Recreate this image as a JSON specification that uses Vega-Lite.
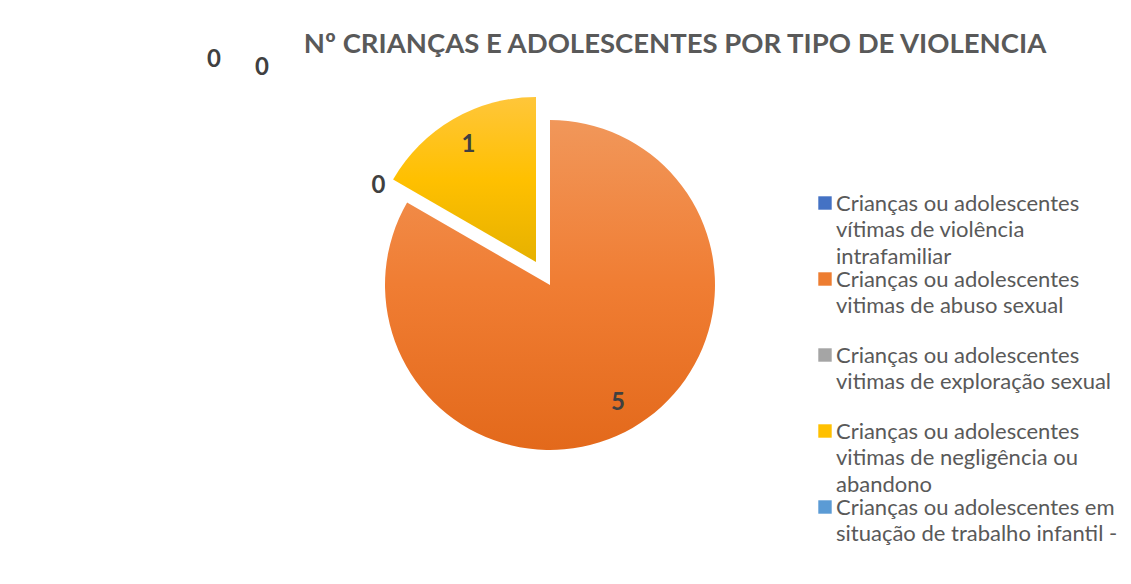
{
  "$schema": "https://vega.github.io/schema/vega-lite/v6.json",
  "width": 1100,
  "height": 570,
  "autosize": {"type": "none"},
  "padding": {"left": 0, "top": 0, "right": 31, "bottom": 14},
  "background": "white",
  "config": {"view": {"stroke": null}, "font": "Lato"},
  "title": {
    "text": "Nº CRIANÇAS E ADOLESCENTES POR TIPO DE VIOLENCIA",
    "frame": "group",
    "anchor": "middle",
    "orient": "top",
    "offset": -80,
    "baseline": "alphabetic",
    "dx": 125,
    "fontSize": 27.5,
    "fontWeight": "bold",
    "color": "#595959",
    "font": "Lato"
  },
  "data": {
    "values": [
      {"categoria": "Crianças ou adolescentes vítimas de violência intrafamiliar", "valor": 0},
      {"categoria": "Crianças ou adolescentes vitimas de abuso sexual", "valor": 5},
      {"categoria": "Crianças ou adolescentes vitimas de exploração sexual", "valor": 0},
      {"categoria": "Crianças ou adolescentes vitimas de negligência ou abandono", "valor": 1},
      {"categoria": "Crianças ou adolescentes em situação de trabalho infantil -", "valor": 0}
    ]
  },
  "transform": [
    {"stack": "valor", "groupby": [], "as": ["v0", "v1"]},
    {"calculate": "(datum.v0 + datum.v1) / 2", "as": "vmid"}
  ],
  "layer": [
    {
      "mark": {"type": "arc", "radius": 165, "opacity": 0},
      "encoding": {
        "theta": {"field": "v0", "type": "quantitative", "scale": {"domain": [0, 6]}},
        "theta2": {"field": "v1"},
        "color": {
          "field": "categoria",
          "type": "nominal",
          "scale": {
            "domain": [
              "Crianças ou adolescentes vítimas de violência intrafamiliar",
              "Crianças ou adolescentes vitimas de abuso sexual",
              "Crianças ou adolescentes vitimas de exploração sexual",
              "Crianças ou adolescentes vitimas de negligência ou abandono",
              "Crianças ou adolescentes em situação de trabalho infantil -"
            ],
            "range": ["#4472C4", "#ED7D31", "#A5A5A5", "#FFC000", "#5B9BD5"]
          },
          "legend": {
            "title": null,
            "orient": "none",
            "legendX": 814,
            "legendY": 192,
            "columns": 1,
            "gridAlign": "all",
            "symbolType": "square",
            "symbolSize": 180,
            "symbolOpacity": 1,
            "symbolStrokeWidth": 0,
            "labelFont": "Lato",
            "labelFontSize": 22,
            "labelColor": "#595959",
            "labelLimit": 400,
            "labelOffset": 0,
            "labelBaseline": "top",
            "rowPadding": 0,
            "encode": {"labels": {"update": {"lineHeight": {"value": 26.4}, "dy": {"value": -9}}}},
            "labelExpr": "datum.label == 'Crianças ou adolescentes vítimas de violência intrafamiliar' ? ['Crianças ou adolescentes', 'vítimas de violência', 'intrafamiliar'] : datum.label == 'Crianças ou adolescentes vitimas de abuso sexual' ? ['Crianças ou adolescentes', 'vitimas de abuso sexual'] : datum.label == 'Crianças ou adolescentes vitimas de exploração sexual' ? ['Crianças ou adolescentes', 'vitimas de exploração sexual'] : datum.label == 'Crianças ou adolescentes vitimas de negligência ou abandono' ? ['Crianças ou adolescentes', 'vitimas de negligência ou', 'abandono'] : ['Crianças ou adolescentes em', 'situação de trabalho infantil -']"
          }
        }
      }
    },
    {
      "transform": [{"filter": "datum.categoria == 'Crianças ou adolescentes vitimas de abuso sexual'"}],
      "mark": {
        "type": "arc",
        "radius": 165,
        "fill": {
          "gradient": "linear", "x1": 0, "y1": 0, "x2": 0, "y2": 1,
          "stops": [{"offset": 0, "color": "#F1975A"}, {"offset": 0.5, "color": "#F07D33"}, {"offset": 1, "color": "#E3691B"}]
        }
      },
      "encoding": {
        "theta": {"field": "v0", "type": "quantitative", "scale": {"domain": [0, 6]}},
        "theta2": {"field": "v1"}
      }
    },
    {
      "transform": [{"filter": "datum.categoria == 'Crianças ou adolescentes vitimas de negligência ou abandono'"}],
      "mark": {
        "type": "arc",
        "radius": 165,
        "xOffset": -14,
        "yOffset": -23,
        "fill": {
          "gradient": "linear", "x1": 0, "y1": 0, "x2": 0, "y2": 1,
          "stops": [{"offset": 0, "color": "#FFC63A"}, {"offset": 0.5, "color": "#FFC000"}, {"offset": 1, "color": "#E6B100"}]
        }
      },
      "encoding": {
        "theta": {"field": "v0", "type": "quantitative", "scale": {"domain": [0, 6]}},
        "theta2": {"field": "v1"}
      }
    },
    {
      "transform": [{"filter": "datum.categoria == 'Crianças ou adolescentes vitimas de abuso sexual'"}],
      "mark": {"type": "text", "radius": 136, "fontSize": 24, "fontWeight": "bold", "color": "#404040", "align": "center", "baseline": "middle", "font": "Lato"},
      "encoding": {
        "theta": {"field": "vmid", "type": "quantitative", "scale": {"domain": [0, 6]}},
        "text": {"field": "valor", "type": "quantitative"}
      }
    },
    {
      "transform": [{"filter": "datum.categoria == 'Crianças ou adolescentes vitimas de negligência ou abandono'"}],
      "mark": {"type": "text", "radius": 135, "xOffset": -14, "yOffset": -23, "fontSize": 24, "fontWeight": "bold", "color": "#404040", "align": "center", "baseline": "middle", "font": "Lato"},
      "encoding": {
        "theta": {"field": "vmid", "type": "quantitative", "scale": {"domain": [0, 6]}},
        "text": {"field": "valor", "type": "quantitative"}
      }
    },
    {
      "transform": [{"filter": "datum.categoria == 'Crianças ou adolescentes vitimas de exploração sexual'"}],
      "mark": {"type": "text", "radius": 198, "fontSize": 24, "fontWeight": "bold", "color": "#404040", "align": "center", "baseline": "middle", "font": "Lato"},
      "encoding": {
        "theta": {"field": "vmid", "type": "quantitative", "scale": {"domain": [0, 6]}},
        "text": {"field": "valor", "type": "quantitative"}
      }
    },
    {
      "transform": [{"filter": "datum.categoria == 'Crianças ou adolescentes vítimas de violência intrafamiliar' || datum.categoria == 'Crianças ou adolescentes em situação de trabalho infantil -'"}],
      "mark": {
        "type": "text", "radius": 198, "fontSize": 24, "fontWeight": "bold", "color": "#404040", "align": "center", "baseline": "middle", "font": "Lato",
        "dx": {"expr": "datum.categoria == 'Crianças ou adolescentes vítimas de violência intrafamiliar' ? -336 : -288"},
        "dy": {"expr": "datum.categoria == 'Crianças ou adolescentes vítimas de violência intrafamiliar' ? -27 : -19"}
      },
      "encoding": {
        "theta": {"field": "vmid", "type": "quantitative", "scale": {"domain": [0, 6]}},
        "text": {"field": "valor", "type": "quantitative"}
      }
    }
  ]
}
